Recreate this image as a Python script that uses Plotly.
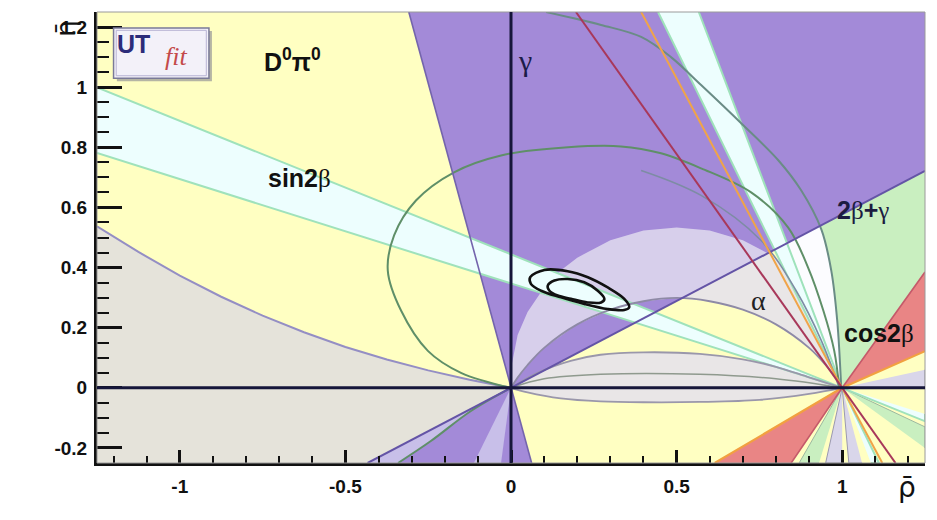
import plotly.graph_objects as go

# ---------------- data ----------------
X_RANGE = [-1.25, 1.25]
Y_RANGE = [-0.25, 1.25]
X_TICKS = [-1, -0.5, 0, 0.5, 1]
X_TICK_LABELS = ["-1", "-0.5", "0", "0.5", "1"]
Y_TICKS = [-0.2, 0, 0.2, 0.4, 0.6, 0.8, 1.0, 1.2]
Y_TICK_LABELS = ["-0.2", "0", "0.2", "0.4", "0.6", "0.8", "1", "1.2"]

# grey region (lower left), upper boundary arc
GREY_X = [-1.25, -1.125, -1.0, -0.875, -0.75, -0.625, -0.5, -0.375, -0.25, -0.125, 0.0, 0.0, -1.25]
GREY_Y = [0.537, 0.452, 0.373, 0.303, 0.24, 0.185, 0.136, 0.094, 0.058, 0.027, 0.0, -0.25, -0.25]

# gamma wedges (purple)
GAMMA_UP_X = [0.0, 1.25, 1.25, -0.3085]
GAMMA_UP_Y = [0.0, 0.7217, 1.25, 1.25]
GAMMA_DN_X = [0.0, -0.433, 0.0623]
GAMMA_DN_Y = [0.0, -0.25, -0.25]
GAMMA_EDGE1_X = [-0.3085, 0.0, 0.0623]
GAMMA_EDGE1_Y = [1.25, 0.0, -0.25]
GAMMA_EDGE2_X = [1.25, 0.0, -0.433]
GAMMA_EDGE2_Y = [0.7217, 0.0, -0.25]
GAMMA_SUB1_X = [0.0, -0.433, -0.341, -0.242, -0.121]
GAMMA_SUB1_Y = [0.0, -0.25, -0.25, -0.177, -0.077]
GAMMA_SUB2_X = [0.0, -0.112, -0.03]
GAMMA_SUB2_Y = [0.0, -0.25, -0.25]
LOW_GREEN_X = [0.0, -0.121, -0.242, -0.341]
LOW_GREEN_Y = [0.0, -0.077, -0.177, -0.25]

# alpha crescent (dome) between two arcs through (0,0) and (1,0)
DOME_UP_X = [0.0, 0.0, 0.02, 0.05, 0.1, 0.15, 0.2, 0.3, 0.4, 0.5, 0.6, 0.7, 0.8, 0.85, 0.9, 0.95, 0.98, 1.0, 1.0]
DOME_UP_Y = [0.0, 0.064, 0.176, 0.252, 0.334, 0.39, 0.433, 0.491, 0.523, 0.533, 0.523, 0.491, 0.433, 0.39, 0.334, 0.252, 0.176, 0.064, 0.0]
DOME_LO_X = [1.0, 0.98, 0.95, 0.9, 0.8, 0.7, 0.6, 0.5, 0.4, 0.3, 0.2, 0.1, 0.05, 0.02, 0.0]
DOME_LO_Y = [0.0, 0.034, 0.076, 0.133, 0.211, 0.26, 0.288, 0.299, 0.288, 0.26, 0.211, 0.133, 0.076, 0.034, 0.0]

# alpha lens around the rho axis
LENS_UP_X = [0.0, 0.08, 0.18, 0.27, 0.4, 0.57, 0.7, 0.8, 0.9, 1.0]
LENS_UP_Y = [0.0, 0.05, 0.09, 0.11, 0.118, 0.113, 0.095, 0.07, 0.035, 0.0]
LENS_LO_X = [1.0, 0.9, 0.75, 0.57, 0.4, 0.27, 0.15, 0.05, 0.0]
LENS_LO_Y = [0.0, -0.02, -0.04, -0.047, -0.048, -0.045, -0.035, -0.015, 0.0]
LENS_MID_X = [0.0, 0.1, 0.27, 0.57, 0.8, 1.0]
LENS_MID_Y = [0.0, 0.03, 0.045, 0.045, 0.03, 0.0]

# sin2beta bands through (1,0)
BAND_A_X = [-1.25, 1.0, -1.25]
BAND_A_Y = [0.999, 0.0, 0.781]
BAND_A2_X = [1.0, 1.25, 1.25]
BAND_A2_Y = [0.0, -0.111, -0.0868]
BAND_B_X = [0.444, 1.0, 0.567]
BAND_B_Y = [1.25, 0.0, 1.25]
BAND_B2_X = [1.0, 1.111, 1.0865]
BAND_B2_Y = [0.0, -0.25, -0.25]

# 2beta+gamma region (green) and white gap
GREEN_REG_X = [0.935, 0.967, 0.985, 0.997, 1.0, 1.25, 1.25]
GREEN_REG_Y = [0.54, 0.39, 0.223, 0.0, 0.0, 0.385, 0.722]
WHITE_REG_X = [0.8335, 0.935, 0.967, 0.985, 0.997, 1.0]
WHITE_REG_Y = [0.481, 0.54, 0.39, 0.223, 0.0, 0.0]

# cos2beta wedges (red)
RED_UR_X = [1.0, 1.25, 1.25]
RED_UR_Y = [0.0, 0.122, 0.385]
RED_LL_X = [1.0, 0.615, 0.846]
RED_LL_Y = [0.0, -0.25, -0.25]
RED_SHALLOW_X = [0.615, 1.0, 1.25]
RED_SHALLOW_Y = [-0.25, 0.0, 0.122]
RED_STEEP_X = [0.846, 1.0, 1.25]
RED_STEEP_Y = [-0.25, 0.0, 0.385]
RED_LINE_X = [0.196, 1.0, 1.161]
RED_LINE_Y = [1.25, 0.0, -0.25]
ORANGE_LINE_X = [0.393, 1.0, 1.121]
ORANGE_LINE_Y = [1.25, 0.0, -0.25]

# small streak wedges around (1,0)
STREAK_GREEN_X = [1.0, 0.87, 0.93]
STREAK_GREEN_Y = [0.0, -0.25, -0.25]
STREAK_LAV1_X = [1.0, 0.95, 1.0]
STREAK_LAV1_Y = [0.0, -0.25, -0.25]
STREAK_LAV2_X = [1.0, 1.02, 1.06]
STREAK_LAV2_Y = [0.0, -0.25, -0.25]
STREAK_GREEN2_X = [1.0, 1.25, 1.25]
STREAK_GREEN2_Y = [0.0, -0.13, -0.2]
STREAK_LAV3_X = [1.0, 1.25, 1.25]
STREAK_LAV3_Y = [0.0, 0.0, 0.06]

# contour arcs
GREEN_ARC_X = [0.0, -0.151, -0.251, -0.332, -0.372, -0.353, -0.287, -0.172, -0.03, 0.172, 0.332, 0.453, 0.574, 0.725, 0.837, 0.897, 0.943, 0.976, 0.991]
GREEN_ARC_Y = [0.0, 0.05, 0.123, 0.257, 0.39, 0.507, 0.623, 0.717, 0.773, 0.8, 0.803, 0.78, 0.73, 0.65, 0.533, 0.4, 0.257, 0.123, 0.0]
UPPER_ARC_X = [0.106, 0.272, 0.393, 0.483, 0.574, 0.695, 0.807, 0.876, 0.937, 0.967, 0.985, 0.997]
UPPER_ARC_Y = [1.25, 1.207, 1.167, 1.1, 1.007, 0.88, 0.757, 0.657, 0.527, 0.39, 0.223, 0.0]
GREY_ARC_X = [0.393, 0.574, 0.755, 0.861, 0.937, 0.991]
GREY_ARC_Y = [0.723, 0.64, 0.49, 0.323, 0.157, 0.0]

# fit contours (black)
OUTER_X = [0.058, 0.101, 0.171, 0.232, 0.292, 0.342, 0.357, 0.342, 0.292, 0.221, 0.151, 0.091, 0.06, 0.058]
OUTER_Y = [0.368, 0.392, 0.388, 0.368, 0.334, 0.296, 0.268, 0.259, 0.262, 0.279, 0.301, 0.323, 0.346, 0.368]
INNER_X = [0.111, 0.131, 0.171, 0.221, 0.262, 0.282, 0.272, 0.232, 0.181, 0.141, 0.116, 0.111]
INNER_Y = [0.34, 0.357, 0.362, 0.351, 0.323, 0.296, 0.284, 0.284, 0.296, 0.307, 0.323, 0.34]

# ---------------- colours ----------------
YELLOW = "#ffffc2"
GREY = "#e5e3da"
PURPLE = "#a38ad8"
SUBLAV = "#c8bfe9"
DOME = "rgba(228,224,240,0.8)"
CYAN = "#edfefe"
CYAN_EDGE = "#9fe2bb"
GREEN = "#c9efc0"
RED = "#e98585"
WHITE = "#fcfcff"

fig = go.Figure()


def poly(xs, ys, fill, line_color=None, width=0, shape="linear"):
    fig.add_trace(go.Scatter(
        x=xs, y=ys, mode="lines", fill="toself", fillcolor=fill,
        line=dict(color=line_color or fill, width=width, shape=shape),
        hoverinfo="skip", showlegend=False))


def line(xs, ys, color, width, shape="linear"):
    fig.add_trace(go.Scatter(
        x=xs, y=ys, mode="lines",
        line=dict(color=color, width=width, shape=shape),
        hoverinfo="skip", showlegend=False))


# fills
poly(GREY_X, GREY_Y, GREY)
poly(GAMMA_UP_X, GAMMA_UP_Y, PURPLE)
poly(GAMMA_DN_X, GAMMA_DN_Y, PURPLE)
poly(GAMMA_SUB1_X, GAMMA_SUB1_Y, SUBLAV)
poly(GAMMA_SUB2_X, GAMMA_SUB2_Y, SUBLAV)
poly(DOME_UP_X + DOME_LO_X, DOME_UP_Y + DOME_LO_Y, DOME)
poly(LENS_UP_X + LENS_LO_X, LENS_UP_Y + LENS_LO_Y, DOME)
poly(GREEN_REG_X, GREEN_REG_Y, GREEN)
poly(WHITE_REG_X, WHITE_REG_Y, WHITE)
poly(STREAK_GREEN_X, STREAK_GREEN_Y, GREEN, "#9cb8a0", 1)
poly(STREAK_LAV1_X, STREAK_LAV1_Y, "#d9d6ea", "#9a98b0", 1)
poly(STREAK_LAV2_X, STREAK_LAV2_Y, "#d9d6ea", "#9a98b0", 1)
poly(STREAK_GREEN2_X, STREAK_GREEN2_Y, GREEN, "#9cb8a0", 1)
poly(STREAK_LAV3_X, STREAK_LAV3_Y, "#d9d6ea", "#9a98b0", 1)
poly(RED_UR_X, RED_UR_Y, RED)
poly(RED_LL_X, RED_LL_Y, RED)
poly(BAND_A_X, BAND_A_Y, CYAN, CYAN_EDGE, 2)
poly(BAND_A2_X, BAND_A2_Y, CYAN, CYAN_EDGE, 2)
poly(BAND_B_X, BAND_B_Y, CYAN, CYAN_EDGE, 2)
poly(BAND_B2_X, BAND_B2_Y, CYAN, CYAN_EDGE, 2)

# contour lines
line(GREY_X[:11], GREY_Y[:11], "#948ec4", 2)
line(LENS_UP_X, LENS_UP_Y, "#9a97ab", 1.8, "spline")
line(LENS_LO_X, LENS_LO_Y, "#9a97ab", 1.8, "spline")
line(LENS_MID_X, LENS_MID_Y, "#8f9a8e", 1.5, "spline")
line(DOME_LO_X, DOME_LO_Y, "#8e8aa6", 1.8, "spline")
line(GREY_ARC_X, GREY_ARC_Y, "#7d8ca4", 1.6, "spline")
line(GREEN_ARC_X, GREEN_ARC_Y, "#5f8f68", 2, "spline")
line(UPPER_ARC_X, UPPER_ARC_Y, "#6a8c86", 2, "spline")
line(LOW_GREEN_X, LOW_GREEN_Y, "#5f8f68", 2, "spline")
line(GAMMA_EDGE1_X, GAMMA_EDGE1_Y, "#7464ac", 1.6)
line(GAMMA_EDGE2_X, GAMMA_EDGE2_Y, "#6454a6", 2)
line(RED_SHALLOW_X, RED_SHALLOW_Y, "#f2a040", 2.2)
line(RED_STEEP_X, RED_STEEP_Y, "#c55a6a", 1.6)
line(ORANGE_LINE_X, ORANGE_LINE_Y, "#f0a448", 2)
line(RED_LINE_X, RED_LINE_Y, "#a8385a", 2)
line(OUTER_X, OUTER_Y, "#111111", 2.6, "spline")
line(INNER_X, INNER_Y, "#111111", 2.6, "spline")

# reference lines and frame
shapes = [
    dict(type="rect", xref="x domain", yref="y domain", x0=0, x1=1, y0=0, y1=1,
         line=dict(color="#9a9a9a", width=1), layer="above"),
    dict(type="line", xref="x domain", yref="y", x0=0, x1=1, y0=0, y1=0,
         line=dict(color="#16163a", width=3), layer="above"),
    dict(type="line", xref="x", yref="y domain", x0=0, x1=0, y0=0, y1=1,
         line=dict(color="#16163a", width=3), layer="above"),
    # UTfit logo
    dict(type="rect", xref="x", yref="y", x0=-1.19, x1=-0.903, y0=1.02, y1=1.187,
         line=dict(width=0), fillcolor="rgba(120,120,140,0.55)", layer="above"),
    dict(type="rect", xref="x", yref="y", x0=-1.2, x1=-0.912, y0=1.03, y1=1.197,
         line=dict(color="#7a7a98", width=1.5), fillcolor="#f3f1f9", layer="above"),
    dict(type="rect", xref="x", yref="y", x0=-1.192, x1=-0.92, y0=1.038, y1=1.189,
         line=dict(color="#b8b4d4", width=1), fillcolor="rgba(0,0,0,0)", layer="above"),
]

SERIF = "Liberation Serif"
SANS = "Liberation Sans"
BETA = "<span style='font-family:Liberation Serif;font-size:25px'>β</span>"
GAMMA = "<span style='font-family:Liberation Serif;font-size:25px'>γ</span>"
annotations = [
    dict(x=-0.659, y=1.09, text="<b>D<sup>0</sup>π<sup>0</sup></b>",
         font=dict(family=SANS, size=25, color="#111111")),
    dict(x=0.043, y=1.09, text="γ", font=dict(family=SERIF, size=30, color="#1c1c48")),
    dict(x=-0.64, y=0.697, text="<b>sin2</b>" + BETA,
         font=dict(family=SANS, size=25, color="#111111")),
    dict(x=1.063, y=0.59, text="<b>2</b>" + BETA + "<b>+</b>" + GAMMA,
         font=dict(family=SANS, size=25, color="#1c1c40")),
    dict(x=0.746, y=0.29, text="α", font=dict(family=SERIF, size=28, color="#222222")),
    dict(x=1.112, y=0.183, text="<b>cos2</b>" + BETA,
         font=dict(family=SANS, size=25, color="#111111")),
    dict(x=-1.139, y=1.143, text="<b>UT</b>", font=dict(family=SANS, size=25, color="#2c2c7a")),
    dict(x=-1.01, y=1.103, text="<i>fit</i>", font=dict(family=SERIF, size=26, color="#c44a4a")),
]
for a in annotations:
    a.update(xref="x", yref="y", showarrow=False)

annotations += [
    dict(xref="paper", yref="paper", x=-0.058, y=0.985, text="\u03b7\u0304", textangle=-90,
         showarrow=False, font=dict(family="DejaVu Sans", size=26, color="#111111")),
    dict(xref="paper", yref="paper", x=0.992, y=-0.095, text="\u03c1\u0304",
         showarrow=False, font=dict(family="DejaVu Sans", size=28, color="#111111")),
]

tickfont = dict(family=SANS, size=19, color="#111111", weight="bold")

fig.update_layout(
    width=937, height=520,
    margin=dict(l=97, r=12, t=12, b=57),
    paper_bgcolor="white", plot_bgcolor=YELLOW,
    showlegend=False,
    shapes=shapes, annotations=annotations,
    xaxis=dict(range=X_RANGE, tickvals=X_TICKS, ticktext=X_TICK_LABELS,
               ticks="inside", ticklen=13, tickwidth=2.5, tickcolor="#111111",
               showline=True, linecolor="#111111", linewidth=3,
               showgrid=False, zeroline=False, layer="above traces",
               tickfont=tickfont, ticklabelstandoff=4,
               minor=dict(dtick=0.1, tick0=0, ticks="inside", ticklen=7,
                          tickwidth=2, tickcolor="#111111")),
    yaxis=dict(range=Y_RANGE, tickvals=Y_TICKS, ticktext=Y_TICK_LABELS,
               ticks="inside", ticklen=25, tickwidth=2.5, tickcolor="#111111",
               showline=True, linecolor="#111111", linewidth=3,
               showgrid=False, zeroline=False, layer="above traces",
               tickfont=tickfont, ticklabelstandoff=3,
               minor=dict(dtick=0.05, tick0=0, ticks="inside", ticklen=12,
                          tickwidth=2, tickcolor="#111111")),
)

fig.write_html("out.html")
